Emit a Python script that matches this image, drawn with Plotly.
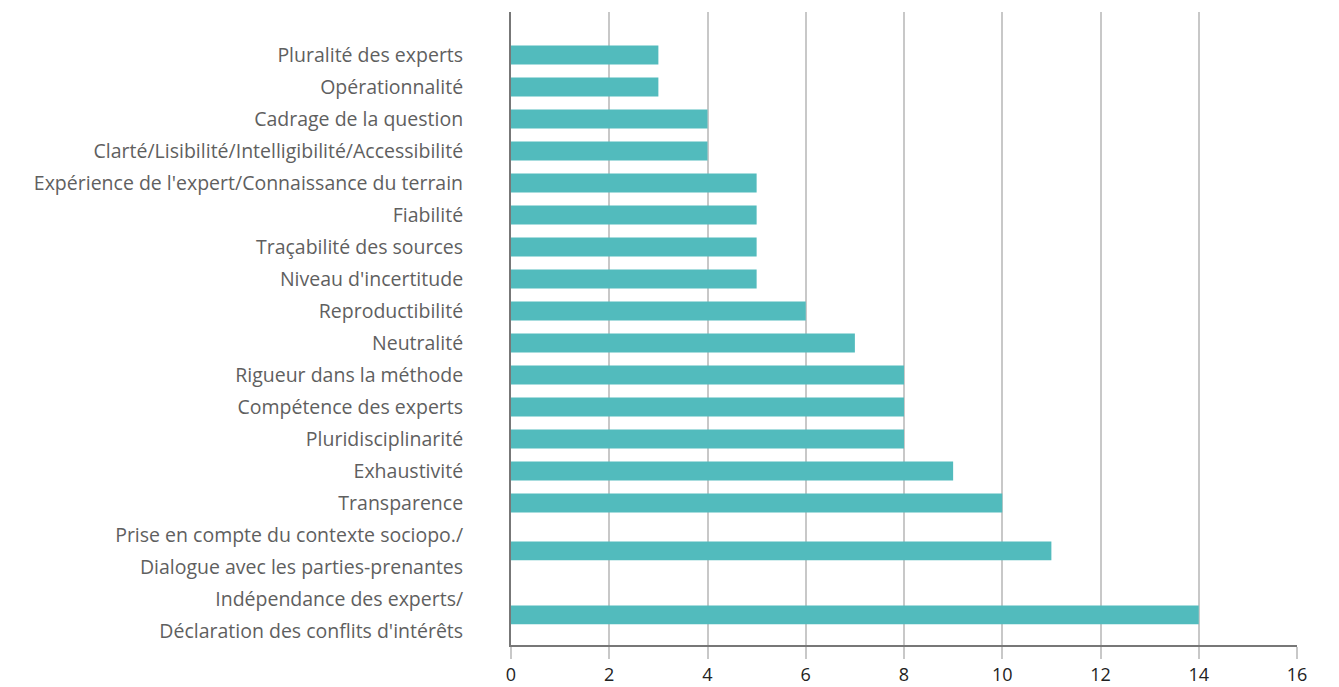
import plotly.graph_objects as go

# each criterion is a list of label lines (two entries = label on two lines)
criteres = [
    ["Pluralité des experts"],
    ["Opérationnalité"],
    ["Cadrage de la question"],
    ["Clarté/Lisibilité/Intelligibilité/Accessibilité"],
    ["Expérience de l'expert/Connaissance du terrain"],
    ["Fiabilité"],
    ["Traçabilité des sources"],
    ["Niveau d'incertitude"],
    ["Reproductibilité"],
    ["Neutralité"],
    ["Rigueur dans la méthode"],
    ["Compétence des experts"],
    ["Pluridisciplinarité"],
    ["Exhaustivité"],
    ["Transparence"],
    ["Prise en compte du contexte sociopo./", "Dialogue avec les parties-prenantes"],
    ["Indépendance des experts/", "Déclaration des conflits d'intérêts"],
]
citations = [3, 3, 4, 4, 5, 5, 5, 5, 6, 7, 8, 8, 8, 9, 10, 11, 14]

x_ticks = list(range(0, 17, 2))

# one tick per text line, bars centred on their label lines
line_pos, line_text, bar_pos = [], [], []
k = 0
for lines in criteres:
    idx = []
    for t in lines:
        line_pos.append(k)
        line_text.append(t)
        idx.append(k)
        k += 1
    bar_pos.append(sum(idx) / len(idx))

TEAL = "#52BBBD"
GRID = "#c8c8c8"
AXIS = "#777777"

fig = go.Figure(
    go.Bar(
        x=citations,
        y=bar_pos,
        orientation="h",
        marker=dict(color=TEAL, line=dict(width=0)),
        width=0.59,
        hoverinfo="x",
    )
)

fig.update_layout(
    width=1339,
    height=687,
    margin=dict(l=511, r=42, t=12, b=42),
    paper_bgcolor="white",
    plot_bgcolor="white",
    showlegend=False,
    font=dict(family="Open Sans, sans-serif"),
)

fig.update_xaxes(
    range=[0, 16],
    tickvals=x_ticks,
    automargin=False,
    showgrid=True,
    gridcolor=GRID,
    gridwidth=2,
    zeroline=False,
    showline=True,
    linecolor=AXIS,
    linewidth=2,
    ticks="outside",
    ticklen=12,
    tickwidth=2,
    tickcolor=GRID,
    ticklabelstandoff=0,
    tickfont=dict(size=18, color="#222222"),
)

fig.update_yaxes(
    range=[k - 1 + 0.44, -1.344],
    tickvals=line_pos,
    ticktext=line_text,
    automargin=False,
    showgrid=False,
    zeroline=False,
    showline=True,
    linecolor=AXIS,
    linewidth=2,
    ticks="",
    ticklabelstandoff=42,
    tickfont=dict(size=19.5, color="#5f5f5f"),
)

fig.write_html(
    "out.html",
    config={"displayModeBar": False},
    post_script="document.body.style.margin = '0';",
)
